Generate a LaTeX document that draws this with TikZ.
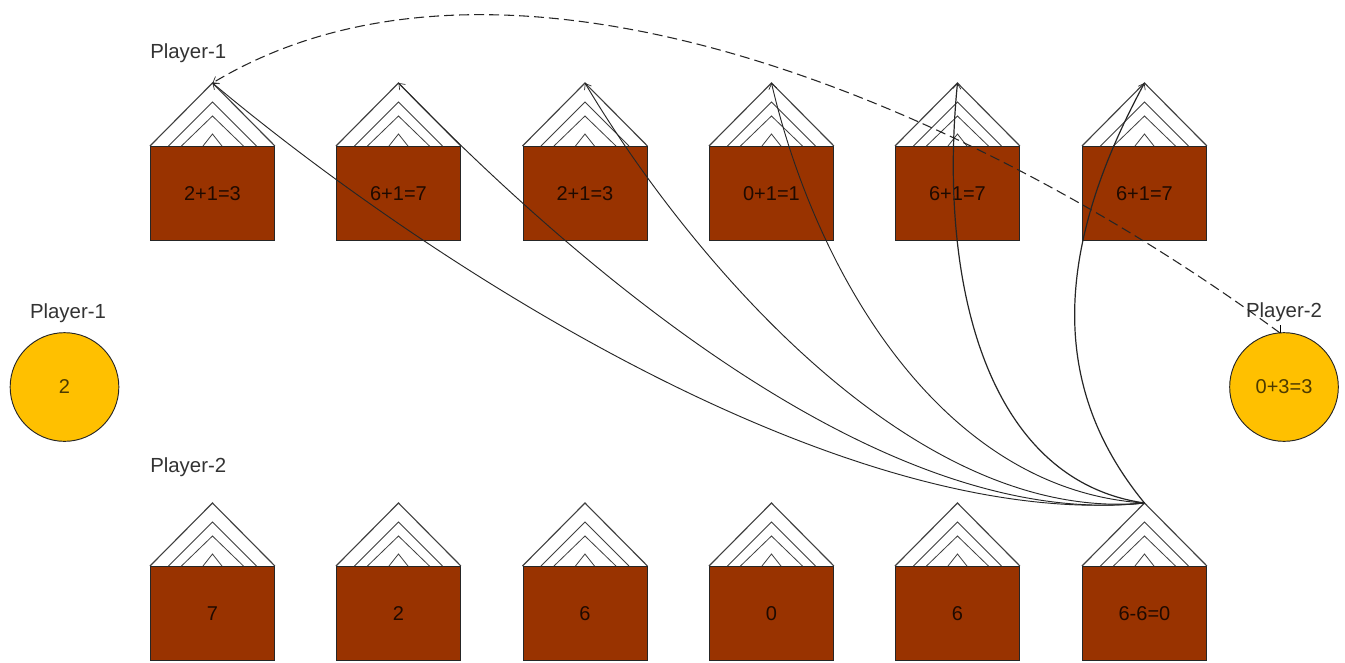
\documentclass[tikz,border=0pt]{standalone}
\usepackage{fontspec}
\setmainfont{Liberation Sans}
\usetikzlibrary{arrows.meta}
\tikzset{
  x=0.75pt,y=-0.75pt,
  pit/.style={draw=black!85,fill=pitbrown,line width=0.7pt,minimum width=93pt,minimum height=70.5pt,inner sep=0pt,anchor=north west,font=\fontsize{15}{17}\selectfont,text=black!80!pitbrown},
  store/.style={circle,draw=black!85,fill=storegold,line width=0.7pt,minimum size=81.5pt,inner sep=0pt,font=\fontsize{15}{17}\selectfont,text=black!70!storegold},
  lab/.style={inner sep=0pt,font=\fontsize{15.3}{17}\selectfont,text=black!80},
  roof/.style={draw=black!75,line width=0.6pt},
  seed/.style={draw=black!85,line width=0.7pt,-{Straight Barb[length=4pt,width=6pt,line width=0.5pt]}},
  seedfat/.style={seed,line width=0.9pt},
  dashline/.style={seed,line width=0.8pt,dash pattern=on 7.5pt off 3.75pt}
}
\definecolor{pitbrown}{HTML}{993300}
\definecolor{storegold}{HTML}{FFC000}
\begin{document}
\begin{tikzpicture}
\useasboundingbox (0,0) rectangle (1345,662);
\fill[white] (0,0) rectangle (1345,662);
% houses
\foreach \nm/\px/\py/\txt in {
 a/150/146/{2+1=3}, b/336/146/{6+1=7}, c/522.5/146/{2+1=3}, d/709/146/{0+1=1}, e/895/146/{6+1=7}, f/1082/146/{6+1=7},
 g/150/566/7, h/336/566/2, i/522.5/566/6, j/709/566/0, k/895/566/6, l/1082/566/{6-6=0}}{
  \node[pit] (\nm) at (\px,\py) {\txt};
  \coordinate (\nm apex) at ([yshift=47.25pt]\nm.north);
  \draw[roof,line width=0.85pt] (\nm.north west) -- (\nm apex) -- (\nm.north east);
  \foreach \hw/\hh in {44/44,31/30,9.5/12}{
    \draw[roof] ([xshift=-\hw*0.75pt]\nm.north) -- ([yshift=\hh*0.75pt]\nm.north) -- ([xshift=\hw*0.75pt]\nm.north);
  }
}
% stores
\node[store] (p1) at (64.5,387) {2};
\node[store] (p2) at (1284,387) {0+3=3};
% labels
\node[lab,anchor=west] (t1) at (150,53) {Player-1};
\node[lab,anchor=center] (t2) at (68,313) {Player-1};
\node[lab,anchor=west] (t3) at (150,467) {Player-2};
\node[lab,anchor=center] (t4) at (1284,312) {Player-2};
% sowing curves
\draw[seed] (lapex) .. controls (850,532) and (442,275) .. (aapex);
\draw[seed] (lapex) .. controls (880,532) and (572,262) .. (bapex);
\draw[seed] (lapex) .. controls (905,525) and (678,240) .. (capex);
\draw[seed] (lapex) .. controls (940,490) and (815,270) .. (dapex);
\draw[seedfat] (lapex) .. controls (985,480) and (938,280) .. (eapex);
\draw[seedfat] (lapex) .. controls (1056,395) and (1047,263) .. (fapex);
% capture
\coordinate (tick) at (1280,325);
\coordinate (tickb) at (1280,333);
\draw[draw=black,line width=0.6pt] (tickb) -- (tick);
\draw[dashline] (tickb) .. controls (980,112) and (512,-97) .. (aapex);
\end{tikzpicture}
\end{document}
